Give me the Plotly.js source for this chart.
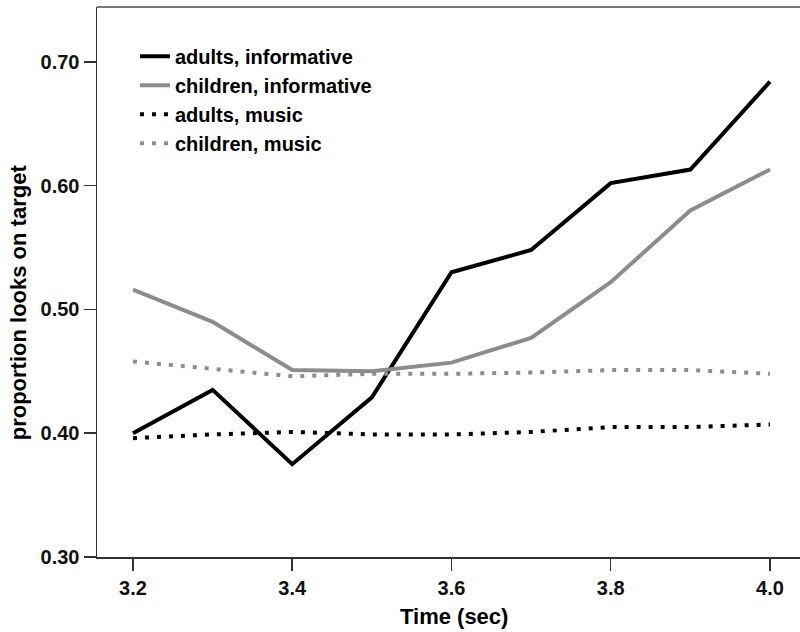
<!DOCTYPE html>
<html>
<head>
<meta charset="utf-8">
<script src="https://cdn.plot.ly/plotly-3.0.1.min.js"></script>
<style>html,body{margin:0;padding:0;background:#fff;}#chart{width:800px;height:632px;}</style>
</head>
<body>
<div id="chart"></div>
<script>
var time = [3.2, 3.3, 3.4, 3.5, 3.6, 3.7, 3.8, 3.9, 4.0];
var adultsInformative = [0.400, 0.435, 0.375, 0.429, 0.530, 0.548, 0.602, 0.613, 0.684];
var childrenInformative = [0.516, 0.490, 0.451, 0.450, 0.457, 0.477, 0.522, 0.580, 0.613];
var adultsMusic = [0.396, 0.399, 0.401, 0.399, 0.399, 0.401, 0.405, 0.405, 0.407];
var childrenMusic = [0.458, 0.452, 0.446, 0.448, 0.448, 0.449, 0.451, 0.451, 0.448];
var seriesNames = ["adults, informative", "children, informative", "adults, music", "children, music"];
var xTicks = [3.2, 3.4, 3.6, 3.8, 4.0];
var xTickLabels = ["3.2", "3.4", "3.6", "3.8", "4.0"];
var yTicks = [0.30, 0.40, 0.50, 0.60, 0.70];
var yTickLabels = ["0.30", "0.40", "0.50", "0.60", "0.70"];

var FONT = "Arial, 'Liberation Sans', sans-serif";
var traces = [
  {x: time, y: adultsInformative, name: seriesNames[0], mode: "lines", line: {color: "#000000", width: 4}},
  {x: time, y: childrenInformative, name: seriesNames[1], mode: "lines", line: {color: "#8c8c8c", width: 4}},
  {x: time, y: adultsMusic, name: seriesNames[2], mode: "lines", line: {color: "#000000", width: 4, dash: "4px,8px"}},
  {x: time, y: childrenMusic, name: seriesNames[3], mode: "lines", line: {color: "#8c8c8c", width: 4, dash: "4px,8px"}}
];

var tickFont = {family: FONT, size: 20, color: "#111111", weight: "bold"};
var layout = {
  width: 800, height: 632,
  margin: {l: 97, r: 0, t: 7, b: 75, pad: 0},
  paper_bgcolor: "#ffffff", plot_bgcolor: "#ffffff",
  font: {family: FONT, color: "#000000"},
  showlegend: true,
  legend: {x: 0.054, y: 0.946, xanchor: "left", yanchor: "top", bgcolor: "rgba(0,0,0,0)",
           font: {family: FONT, size: 20, color: "#000000", weight: "bold"}, tracegroupgap: 0},
  xaxis: {range: [3.1548, 4.0377], tickvals: xTicks, ticktext: xTickLabels, showgrid: false, zeroline: false,
          showline: true, linecolor: "#333333", linewidth: 1.5, ticks: "outside", ticklen: 12, tickwidth: 1.5,
          tickcolor: "#333333", tickfont: tickFont},
  yaxis: {range: [0.30, 0.7443], tickvals: yTicks, ticktext: yTickLabels, showgrid: false, zeroline: false,
          showline: true, linecolor: "#333333", linewidth: 1.5, ticks: "outside", ticklen: 12, tickwidth: 1.5,
          tickcolor: "#333333", tickfont: tickFont},
  shapes: [{type: "line", xref: "paper", yref: "paper", x0: 0, x1: 1, y0: 1, y1: 1, line: {color: "#7a7a7a", width: 2}}],
  annotations: [
    {text: "Time (sec)", xref: "paper", yref: "paper", x: 0.508, y: -0.109, xanchor: "center", yanchor: "middle",
     showarrow: false, font: {family: FONT, size: 22, color: "#000000", weight: "bold"}},
    {text: "proportion looks on target", xref: "paper", yref: "paper", x: -0.112, y: 0.4636, xanchor: "center", yanchor: "middle",
     textangle: -90, showarrow: false, font: {family: FONT, size: 22, color: "#000000", weight: "bold"}}
  ]
};
Plotly.newPlot("chart", traces, layout, {displayModeBar: false, staticPlot: true});
</script>
</body>
</html>
